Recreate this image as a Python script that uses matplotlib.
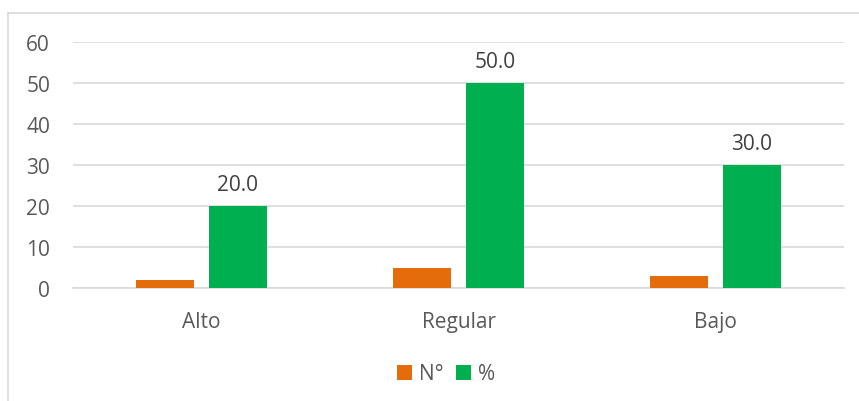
import matplotlib.pyplot as plt
import numpy as np

categories = ["Alto", "Regular", "Bajo"]
n_values = [2, 5, 3]
pct_values = [20.0, 50.0, 30.0]
y_ticks = [0, 10, 20, 30, 40, 50, 60]

ORANGE = "#E46C0A"
GREEN = "#00B050"
GRID = "#D9D9D9"
TEXT = "#595959"

plt.rcParams["font.family"] = ["Open Sans", "DejaVu Sans"]

W, H = 859, 402
fig = plt.figure(figsize=(W / 100, H / 100), dpi=100)

# chart border (only top and left visible in the reference)
fig.add_artist(plt.Line2D([8 / W, 1.0], [1 - 14 / H, 1 - 14 / H], color=GRID, lw=1.2))
fig.add_artist(plt.Line2D([8 / W, 8 / W], [0, 1 - 14 / H], color=GRID, lw=1.2))

ax = fig.add_axes([73 / W, 1 - 289 / H, (844 - 73) / W, (289 - 43) / H])
x = np.arange(len(categories))
width = 0.222
offset = 0.142
ax.bar(x - offset, n_values, width, color=ORANGE, label="N°", zorder=3)
bars = ax.bar(x + offset, pct_values, width, color=GREEN, label="%", zorder=3)

for rect, val in zip(bars, pct_values):
    ax.annotate(
        f"{val:.1f}",
        (rect.get_x() + rect.get_width() / 2, rect.get_height()),
        xytext=(0, 15.5),
        textcoords="offset points",
        ha="center",
        va="center",
        fontsize=15,
        color="#404040",
    )

ax.set_xlim(-0.5, 2.5)
ax.set_ylim(0, 60)
ax.set_yticks(y_ticks)
ax.set_yticklabels([str(t) for t in y_ticks], fontsize=15, color=TEXT)
ax.set_xticks(x)
ax.set_xticklabels(categories, fontsize=15, color=TEXT)
ax.tick_params(axis="both", length=0)
ax.tick_params(axis="y", pad=16.5)
ax.tick_params(axis="x", pad=16.5)
ax.grid(axis="y", color=GRID, lw=1.2, zorder=0)
for side in ["top", "right", "left"]:
    ax.spines[side].set_visible(False)
ax.spines["bottom"].set_color(GRID)
ax.spines["bottom"].set_linewidth(1.2)

fig.legend(
    loc="center",
    bbox_to_anchor=(446 / W, 1 - 375 / H),
    ncol=2,
    frameon=False,
    fontsize=15,
    labelcolor=TEXT,
    handlelength=0.7,
    handleheight=0.7,
    handletextpad=0.35,
    columnspacing=0.6,
)

fig.savefig("out.png", dpi=100)
